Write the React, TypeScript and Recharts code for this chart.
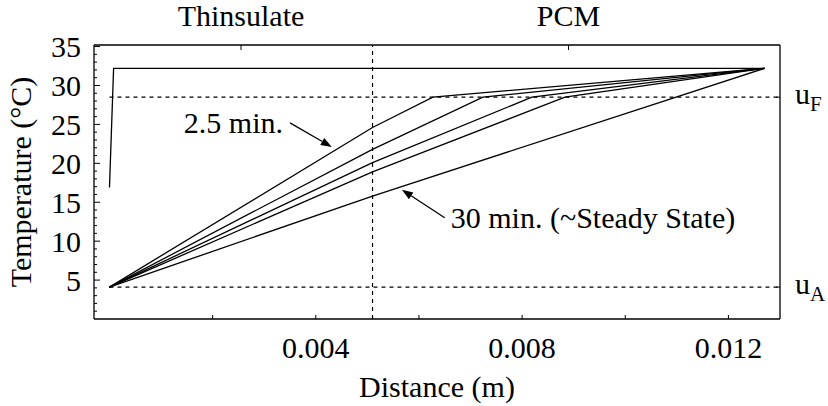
import React from "react";
import {
  Line,
  LineChart,
  ReferenceLine,
  XAxis,
  YAxis,
} from "recharts";

// Temperature profiles through Thinsulate + PCM layers
const FONT = '"Liberation Serif", "Times New Roman", serif';

const interfaceX = 0.0051; // Thinsulate | PCM boundary (m)
const endX = 0.0127; // outer PCM surface (m)
const ambientT = 4.1; // u_A
const meltT = 28.5; // u_F
const hotT = 32.2;

// t = 0 profile
const initialX = [0, 0.00008, endX];
const initialT = [16.9, hotT, hotT];

// transient profiles: temperature at interface, melt front position
const interfaceT = [24.6, 21.8, 20.1, 18.9];
const frontX = [0.00627, 0.00724, 0.00819, 0.00883];

// 30 min (~steady state)
const steadyX = [0, interfaceX, endX];
const steadyT = [ambientT, 15.8, hotT];

const yTicks = [
  1, 2, 3, 4, 5, 6, 7, 8, 9, 10, 11, 12, 13, 14, 15, 16, 17, 18, 19, 20, 21,
  22, 23, 24, 25, 26, 27, 28, 29, 30, 31, 32, 33, 34, 35,
];
const yLabelTicks = [5, 10, 15, 20, 25, 30, 35];
const xTicks = [0.002, 0.004, 0.006, 0.008, 0.01, 0.012];
const xLabelTicks = ["0.004", "0.008", "0.012"];
const layerTicks = [0.00255, 0.0089];
const layerLabels = ["Thinsulate", "PCM"];
const rightTicks = [ambientT, meltT];
const rightLabels = ["A", "F"];

const X_DOMAIN = [-0.0003, 0.013];
const Y_DOMAIN = [0, 35.2];

const toPoints = (xs: number[], ts: number[]) =>
  xs.map((x, i) => ({ x, t: ts[i] }));

const series = [
  toPoints(initialX, initialT),
  ...interfaceT.map((ti, i) =>
    toPoints([0, interfaceX, frontX[i], endX], [ambientT, ti, meltT, hotT])
  ),
  toPoints(steadyX, steadyT),
];

const txt = {
  fontFamily: FONT,
  style: { fontFamily: FONT },
  fontSize: 30,
  fill: "#000",
};

const closeTo = (a: number, b: number) => Math.abs(a - b) < 1e-6;

function LeftTick({ x, y, payload }: any) {
  const v = payload.value;
  const major = yLabelTicks.includes(v);
  return (
    <g>
      <line x1={x} y1={y} x2={x + (major ? 6 : 3)} y2={y} stroke="#000" />
      {major && (
        <text {...txt} x={x - 13} y={y} dy="0.35em" textAnchor="end">
          {v}
        </text>
      )}
    </g>
  );
}

function BottomTick({ x, y, payload }: any) {
  const s = Number(payload.value).toFixed(3);
  return (
    <g>
      <line x1={x} y1={y} x2={x} y2={y - 4} stroke="#000" />
      {xLabelTicks.includes(s) && (
        <text {...txt} x={x} y={y + 39} textAnchor="middle">
          {s}
        </text>
      )}
    </g>
  );
}

function TopTick({ x, y, payload }: any) {
  const i = layerTicks.findIndex((t) => closeTo(t, payload.value));
  return (
    <g>
      <line x1={x} y1={y} x2={x} y2={y + 5} stroke="#000" />
      <text {...txt} x={x} y={y - 19} textAnchor="middle">
        {i >= 0 ? layerLabels[i] : ""}
      </text>
    </g>
  );
}

function RightTick({ x, y, payload }: any) {
  const i = rightTicks.findIndex((t) => closeTo(t, payload.value));
  return (
    <g>
      <line x1={x} y1={y} x2={x - 4} y2={y} stroke="#000" />
      <text {...txt} x={x + 15} y={y + 7}>
        u
        <tspan fontSize={21} dy={7}>
          {i >= 0 ? rightLabels[i] : ""}
        </tspan>
      </text>
    </g>
  );
}

function arrow(label: string, side: "left" | "right") {
  return (p: any) => {
    const { x1, y1, x2, y2 } = p;
    const a = Math.atan2(y2 - y1, x2 - x1);
    const L = 11;
    const W = 4;
    const bx = x2 - L * Math.cos(a);
    const by = y2 - L * Math.sin(a);
    const nx = -Math.sin(a) * W;
    const ny = Math.cos(a) * W;
    return (
      <g>
        <line x1={x1} y1={y1} x2={bx} y2={by} stroke="#000" strokeWidth={1.3} />
        <polygon
          points={`${x2},${y2} ${bx + nx},${by + ny} ${bx - nx},${by - ny}`}
          fill="#000"
        />
        <text
          {...txt}
          x={side === "left" ? x1 - 7 : x1 + 6}
          y={y1 + 10}
          textAnchor={side === "left" ? "end" : "start"}
        >
          {label}
        </text>
      </g>
    );
  };
}

export default function App() {
  return (
    <div
      style={{
        position: "absolute",
        left: 0,
        top: 0,
        width: 828,
        height: 406,
        background: "#fff",
        fontFamily: FONT,
      }}
    >
      <LineChart
        width={828}
        height={406}
        margin={{ top: 0, right: 0, bottom: 0, left: 0 }}
      >
        <XAxis
          dataKey="x"
          type="number"
          domain={X_DOMAIN}
          ticks={xTicks}
          interval={0}
          height={87}
          tickSize={0}
          tickMargin={0}
          tickLine={false}
          axisLine={{ stroke: "#000", strokeWidth: 1.3 }}
          tick={(p: any) => <BottomTick {...p} />}
          label={{
            content: ({ viewBox }: any) => (
              <text
                {...txt}
                x={viewBox.x + viewBox.width / 2}
                y={viewBox.y + 78}
                textAnchor="middle"
              >
                Distance (m)
              </text>
            ),
          }}
        />
        <XAxis
          xAxisId="top"
          orientation="top"
          dataKey="x"
          type="number"
          domain={X_DOMAIN}
          allowDataOverflow
          ticks={layerTicks}
          interval={0}
          height={45}
          tickSize={0}
          tickMargin={0}
          tickLine={false}
          axisLine={{ stroke: "#000", strokeWidth: 1.3 }}
          tick={(p: any) => <TopTick {...p} />}
        />
        <YAxis
          type="number"
          domain={Y_DOMAIN}
          ticks={yTicks}
          interval={0}
          width={94}
          tickSize={0}
          tickMargin={0}
          tickLine={false}
          axisLine={{ stroke: "#000", strokeWidth: 1.3 }}
          tick={(p: any) => <LeftTick {...p} />}
          label={{
            content: ({ viewBox }: any) => {
              const cx = viewBox.x + 20;
              const cy = viewBox.y + viewBox.height / 2;
              return (
                <text
                  {...txt}
                  x={cx}
                  y={cy}
                  dy="0.35em"
                  textAnchor="middle"
                  transform={`rotate(-90 ${cx} ${cy})`}
                >
                  Temperature (°C)
                </text>
              );
            },
          }}
        />
        <YAxis
          yAxisId="right"
          orientation="right"
          type="number"
          domain={Y_DOMAIN}
          allowDataOverflow
          ticks={rightTicks}
          interval={0}
          width={48}
          tickSize={0}
          tickMargin={0}
          tickLine={false}
          axisLine={{ stroke: "#000", strokeWidth: 1.3 }}
          tick={(p: any) => <RightTick {...p} />}
        />

        <ReferenceLine
          x={interfaceX}
          stroke="#000"
          strokeWidth={1.2}
          strokeDasharray="4 4"
        />
        <ReferenceLine
          segment={[
            { x: 0, y: meltT },
            { x: X_DOMAIN[1], y: meltT },
          ]}
          stroke="#000"
          strokeWidth={1.2}
          strokeDasharray="4 4"
        />
        <ReferenceLine
          segment={[
            { x: 0, y: ambientT },
            { x: X_DOMAIN[1], y: ambientT },
          ]}
          stroke="#000"
          strokeWidth={1.2}
          strokeDasharray="4 4"
        />

        {series.map((d, i) => (
          <Line
            key={i}
            data={d}
            dataKey="t"
            type="linear"
            stroke="#000"
            strokeWidth={1.3}
            dot={false}
            activeDot={false}
            isAnimationActive={false}
          />
        ))}
        {/* invisible copy so the top and right axes get a domain */}
        <Line
          xAxisId="top"
          yAxisId="right"
          data={series[series.length - 1]}
          dataKey="t"
          stroke="none"
          dot={false}
          activeDot={false}
          legendType="none"
          isAnimationActive={false}
        />

        <ReferenceLine
          segment={[
            { x: 0.0035, y: 25.2 },
            { x: 0.00431, y: 22.1 },
          ]}
          shape={arrow("2.5 min.", "left")}
        />
        <ReferenceLine
          segment={[
            { x: 0.0065, y: 13.0 },
            { x: 0.00567, y: 16.6 },
          ]}
          shape={arrow("30 min. (~Steady State)", "right")}
        />
      </LineChart>
    </div>
  );
}
